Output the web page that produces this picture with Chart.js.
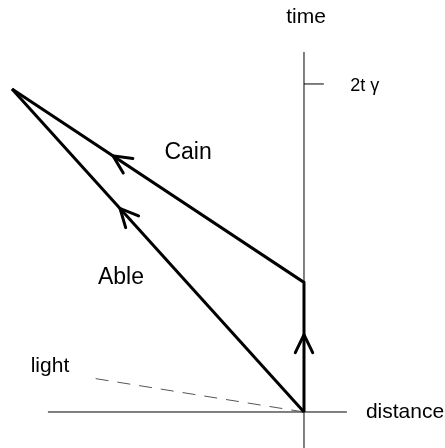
<!DOCTYPE html>
<html>
<head>
<meta charset="utf-8">
<script src="https://cdn.jsdelivr.net/npm/chart.js@4"></script>
<style>
  body { margin: 0; background: #fff; }
  canvas { display: block; }
</style>
</head>
<body>
<canvas id="diagram" width="445" height="448"></canvas>
<script>
// world lines (distance, time)
const cainX = [0, 0, -1];
const cainT = [0, 0.79, 1.97];
const ableX = [0, -1];
const ableT = [0, 1.97];
const lightX = [0, -0.726];
const lightT = [0, 0.207];

// axes + tick
const timeAxisX = [0, 0];
const timeAxisT = [-0.25, 2.195];
const distAxisX = [-0.877, 0.147];
const distAxisT = [0, 0];
const tickX = [0, 0.068];
const tickT = [2, 2];

// labels
const labelText = ['time', '2t γ', 'Cain', 'Able', 'light', 'distance'];
const labelX = [0.007, 0.158, -0.397, -0.627, -0.87, 0.212];
const labelT = [2.41, 1.99, 1.58, 0.817, 0.28, 0];

// arrows: dataset, segment, fraction along segment
const arrowDs = [0, 1, 0];
const arrowSeg = [1, 0, 0];
const arrowAt = [0.654, 0.63, 0.597];

const pts = (xs, ts) => xs.map((x, i) => ({ x: x, y: ts[i] }));

const line = (data, width, extra) => Object.assign({
    data: data,
    showLine: true,
    borderColor: '#000',
    borderWidth: width,
    pointRadius: 0,
    fill: false,
    tension: 0
}, extra || {});

const arrowsPlugin = {
    id: 'arrows',
    afterDatasetsDraw(chart) {
        const c = chart.ctx;
        c.save();
        c.strokeStyle = '#000';
        c.lineWidth = 3;
        c.lineCap = 'round';
        arrowDs.forEach((d, i) => {
            const p = chart.getDatasetMeta(d).data;
            const a = p[arrowSeg[i]], b = p[arrowSeg[i] + 1];
            const tx = a.x + (b.x - a.x) * arrowAt[i];
            const ty = a.y + (b.y - a.y) * arrowAt[i];
            const ang = Math.atan2(a.y - b.y, a.x - b.x);
            const len = 20, spread = 0.45;
            c.beginPath();
            c.moveTo(tx + len * Math.cos(ang - spread), ty + len * Math.sin(ang - spread));
            c.lineTo(tx, ty);
            c.lineTo(tx + len * Math.cos(ang + spread), ty + len * Math.sin(ang + spread));
            c.stroke();
        });
        c.restore();
    }
};

const labelsPlugin = {
    id: 'labels',
    afterDraw(chart) {
        const c = chart.ctx;
        const xs = chart.scales.x, ys = chart.scales.y;
        c.save();
        c.fillStyle = '#000';
        c.textBaseline = 'middle';
        labelText.forEach((t, i) => {
            const big = (t === 'Cain' || t === 'Able');
            c.font = (big ? 23 : (t === '2t γ' ? 18 : 21)) + 'px "Liberation Sans", Arial, sans-serif';
            c.textAlign = (t === '2t γ' || t === 'distance') ? 'left' : 'center';
            c.fillText(t, xs.getPixelForValue(labelX[i]), ys.getPixelForValue(labelT[i]));
        });
        c.restore();
    }
};

new Chart(document.getElementById('diagram'), {
    type: 'scatter',
    data: {
        datasets: [
            line(pts(cainX, cainT), 3),
            line(pts(ableX, ableT), 3),
            line(pts(lightX, lightT), 1, { borderColor: '#555', borderDash: [13, 9] }),
            line(pts(timeAxisX, timeAxisT), 1),
            line(pts(distAxisX, distAxisT), 1),
            line(pts(tickX, tickT), 1)
        ]
    },
    options: {
        responsive: false,
        animation: false,
        layout: { padding: 0 },
        plugins: { legend: { display: false }, tooltip: { enabled: false } },
        scales: {
            x: { display: false, min: -1.0411, max: 0.4829 },
            y: { display: false, min: -0.2195, max: 2.512 }
        }
    },
    plugins: [arrowsPlugin, labelsPlugin]
});
</script>
</body>
</html>
